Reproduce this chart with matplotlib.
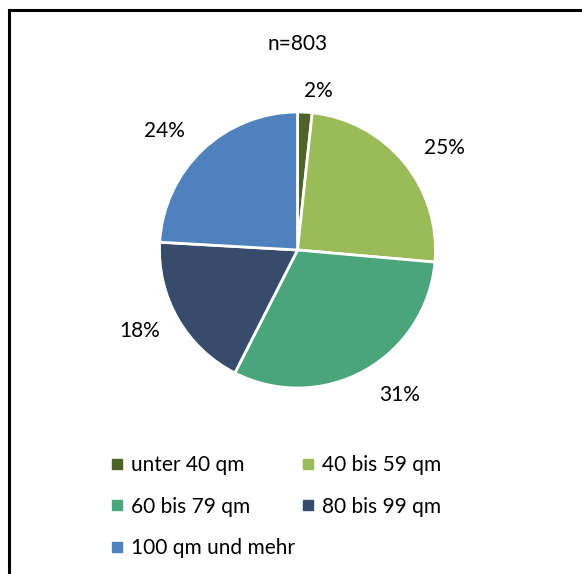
import matplotlib
matplotlib.use("Agg")
import matplotlib.pyplot as plt
from matplotlib.lines import Line2D

plt.rcParams['font.family'] = ['Lato', 'DejaVu Sans']

categories = ["unter 40 qm", "40 bis 59 qm", "60 bis 79 qm", "80 bis 99 qm", "100 qm und mehr"]
values = [1.7, 24.7, 31.1, 18.4, 24.1]
colors = ["#4F6228", "#9BBB59", "#4BA57A", "#374B6B", "#4F81BD"]
title = "n=803"

W, H = 582, 574
fig = plt.figure(figsize=(W / 100, H / 100), dpi=100)

cx, cy, r = 297.5, 250, 138
ax = fig.add_axes([(cx - r) / W, 1 - (cy + r) / H, 2 * r / W, 2 * r / H])
wedges, texts, autotexts = ax.pie(
    values, colors=colors, startangle=90, counterclock=False,
    autopct=lambda p: f"{p:.0f}%", pctdistance=1.27,
    wedgeprops=dict(edgecolor="white", linewidth=2),
    textprops=dict(fontsize=15, color="black"))
# label nudges in pixels (right, down) to mimic the original best-fit placement
nudges = [(12, 16), (12, 9), (17, -8), (-6, -6), (-13, 8)]
for t, (dx, dy) in zip(autotexts, nudges):
    x, y = t.get_position()
    t.set_position((x + dx / r, y - dy / r))
ax.set_xlim(-1, 1)
ax.set_ylim(-1, 1)
ax.set_aspect("equal")
ax.axis("off")

fig.text(cx / W, 1 - 44 / H, title, ha="center", va="center", fontsize=15)

handles = [Line2D([], [], marker="s", linestyle="none", markersize=7,
                  markerfacecolor=c, markeredgecolor=c) for c in colors]
order = [0, 2, 4, 1, 3]
fig.legend([handles[i] for i in order], [categories[i] for i in order],
           ncol=2, loc="upper left",
           bbox_to_anchor=(101 / W, 1 - 445 / H), frameon=False,
           fontsize=15, handlelength=0.5, handletextpad=0.45,
           labelspacing=1.02, columnspacing=0.35, borderpad=0)

# outer frame (left and top edges visible)
fig.add_artist(Line2D([8.5 / W, 8.5 / W], [0, 1 - 9.5 / H], color="black", linewidth=2.2,
                      transform=fig.transFigure))
fig.add_artist(Line2D([8.5 / W, 1], [1 - 9.5 / H, 1 - 9.5 / H], color="black", linewidth=2.2,
                      transform=fig.transFigure))

fig.savefig("out.png", dpi=100, facecolor="white")
